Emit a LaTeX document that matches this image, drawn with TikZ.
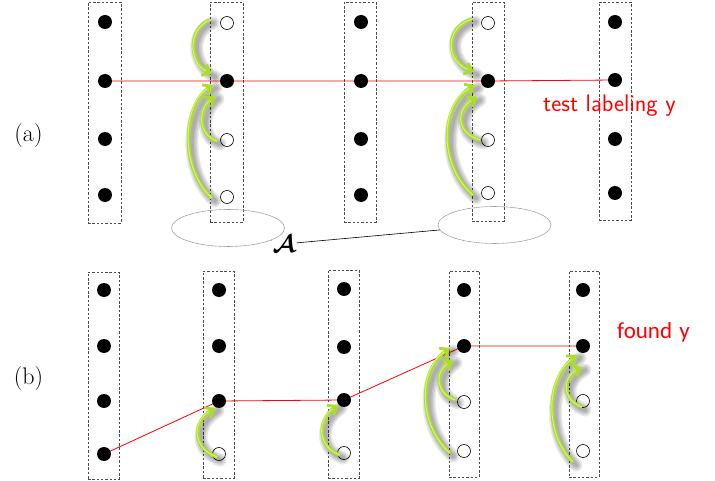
\documentclass[tikz,border=0pt]{standalone}
\usepackage{fontspec}
\usepackage{bm}
\newfontfamily\carlito{Carlito}
\usetikzlibrary{arrows.meta,shapes.geometric,calc}
\pgfdeclarelayer{bg}
\pgfsetlayers{bg,main}
\definecolor{lime}{RGB}{172,222,40}
\definecolor{limelight}{RGB}{212,245,120}
\definecolor{redline}{RGB}{255,0,0}
\tikzset{
  colbox/.style={draw=black!70, dashed, dash pattern=on 2.5pt off 1.8pt, line width=0.7pt, minimum width=#1, inner sep=0pt},
  bdot/.style={circle, fill=black, minimum size=14pt, inner sep=0pt},
  wdot/.style={circle, draw=black, fill=white, line width=0.6pt, minimum size=13pt, inner sep=0pt},
  redpath/.style={draw=redline, line width=0.8pt},
  ell/.style={ellipse, draw=black!40, line width=0.6pt, dash pattern=on 1.2pt off 0.4pt, minimum width=113pt, minimum height=37pt, inner sep=0pt},
  greenline/.style={draw=lime, line width=3.5pt, -{Straight Barb[length=7pt,width=12pt,line width=2.8pt]}},
  shadowline/.style={draw=black, line width=#1, opacity=0.09, line cap=round},
}
\newcommand\garrow[4]{%
  \foreach \w in {4,7,10,13}{\draw[shadowline=\w pt, shift={(3pt,-3pt)}] #1 .. controls #2 and #3 .. #4;}
  \draw[greenline] #1 .. controls #2 and #3 .. #4;
  \draw[draw=limelight, line width=1pt, shorten >=7pt] #1 .. controls #2 and #3 .. #4;
}
\begin{document}
\begin{tikzpicture}[x=1pt,y=-1pt]
\useasboundingbox (0,0) rectangle (715,481);
% ----- (a) boxes
\node[colbox=33pt, minimum height=221pt] (ba1) at (104.5,112.5) {};
\node[colbox=33pt, minimum height=220pt] (ba2) at (226.5,112) {};
\node[colbox=32pt, minimum height=220pt] (ba3) at (360,112) {};
\node[colbox=32pt, minimum height=219pt] (ba4) at (488,111.5) {};
\node[colbox=32pt, minimum height=218pt] (ba5) at (615,111) {};
% ----- (a) dots
\node[bdot] (a11) at (105,22) {};
\node[bdot] (a12) at (105,81) {};
\node[bdot] (a13) at (105,139) {};
\node[bdot] (a14) at (105,195) {};
\node[wdot] (a21) at (227,23) {};
\node[bdot] (a22) at (227,81) {};
\node[wdot] (a23) at (227,140) {};
\node[wdot] (a24) at (227,197) {};
\node[bdot] (a31) at (361,22) {};
\node[bdot] (a32) at (361,81) {};
\node[bdot] (a33) at (361,139) {};
\node[bdot] (a34) at (361,195) {};
\node[wdot] (a41) at (488,23) {};
\node[bdot] (a42) at (488,81) {};
\node[wdot] (a43) at (488,140) {};
\node[wdot] (a44) at (488,193) {};
\node[bdot] (a51) at (615,22) {};
\node[bdot] (a52) at (615,80) {};
\node[bdot] (a53) at (615,139) {};
\node[bdot] (a54) at (615,193) {};
% ----- (b) boxes
\node[colbox=31pt, minimum height=207pt] (bb1) at (103.5,375.5) {};
\node[colbox=31pt, minimum height=207pt] (bb2) at (218.5,374.5) {};
\node[colbox=31pt, minimum height=208pt] (bb3) at (343.5,374) {};
\node[colbox=30pt, minimum height=206pt] (bb4) at (464,374) {};
\node[colbox=30pt, minimum height=206pt] (bb5) at (584,374) {};
% ----- (b) dots
\node[bdot] (b11) at (104,290) {};
\node[bdot] (b12) at (104,346) {};
\node[bdot] (b13) at (104,401) {};
\node[bdot] (b14) at (104,454) {};
\node[bdot] (b21) at (219,290) {};
\node[bdot] (b22) at (219,346) {};
\node[bdot] (b23) at (219,401) {};
\node[wdot] (b24) at (219,454) {};
\node[bdot] (b31) at (344,289) {};
\node[bdot] (b32) at (344,347) {};
\node[bdot] (b33) at (344,400) {};
\node[wdot] (b34) at (344,453) {};
\node[bdot] (b41) at (464,290) {};
\node[bdot] (b42) at (464,346) {};
\node[wdot] (b43) at (464,402) {};
\node[wdot] (b44) at (464,451) {};
\node[bdot] (b51) at (583,290) {};
\node[bdot] (b52) at (583,346) {};
\node[wdot] (b53) at (583,401) {};
\node[wdot] (b54) at (583,451) {};
% ----- red paths
\begin{pgfonlayer}{bg}
\draw[redpath] (a12.center) -- (a22.center) -- (a32.center) -- (a42.center) -- (a52.center);
\draw[redpath] (b14.center) -- (b23.center) -- (b33.center) -- (b42.center) -- (b52.center);
\end{pgfonlayer}
% ----- labels
\node[font=\fontsize{24}{28}\selectfont] (la) at (28.5,136) {(a)};
\node[font=\fontsize{24}{28}\selectfont] (lb) at (28.5,379) {(b)};
\node[anchor=base west, inner sep=0pt, text=redline, font=\sffamily\fontsize{24}{28}\selectfont] (tl) at (543,112) {test labeling y};
\node[anchor=base west, inner sep=0pt, text=redline, font=\carlito\fontsize{23}{27}\selectfont] (fy) at (617,338) {found\hspace{2pt} y};
% ----- ellipses and A
\node[ell] (e1) at (228,228) {};
\node[ell] (e2) at (494.5,225) {};
\node[inner sep=1pt, font=\fontsize{24}{28}\selectfont] (A) at (284,244) {$\bm{\mathcal{A}}$};
\draw[line width=0.6pt] (A) -- (e1);
\draw[line width=0.6pt] (A) -- (e2);
% ----- green arrows (a)
\garrow{(210,20)}{(188,28)}{(188,62)}{(212,74)}
\garrow{(212,198)}{(180,170)}{(182,105)}{(213,85)}
\garrow{(217,141)}{(198,135)}{(198,110)}{(215,96)}
\garrow{(472,19)}{(445,27)}{(445,60)}{(474,72)}
\garrow{(473,195)}{(438,165)}{(440,105)}{(475,85)}
\garrow{(480,140)}{(456,133)}{(456,110)}{(477,97)}
% ----- green arrows (b)
\garrow{(217,457)}{(192,448)}{(192,422)}{(215,408)}
\garrow{(340,455)}{(317,447)}{(317,420)}{(338,405)}
\garrow{(450,453)}{(418,425)}{(418,370)}{(450,348)}
\garrow{(455,400)}{(435,393)}{(435,372)}{(453,360)}
\garrow{(573,462)}{(545,435)}{(545,380)}{(577,355)}
\garrow{(582,407)}{(562,400)}{(562,378)}{(582,367)}
\end{tikzpicture}
\end{document}
